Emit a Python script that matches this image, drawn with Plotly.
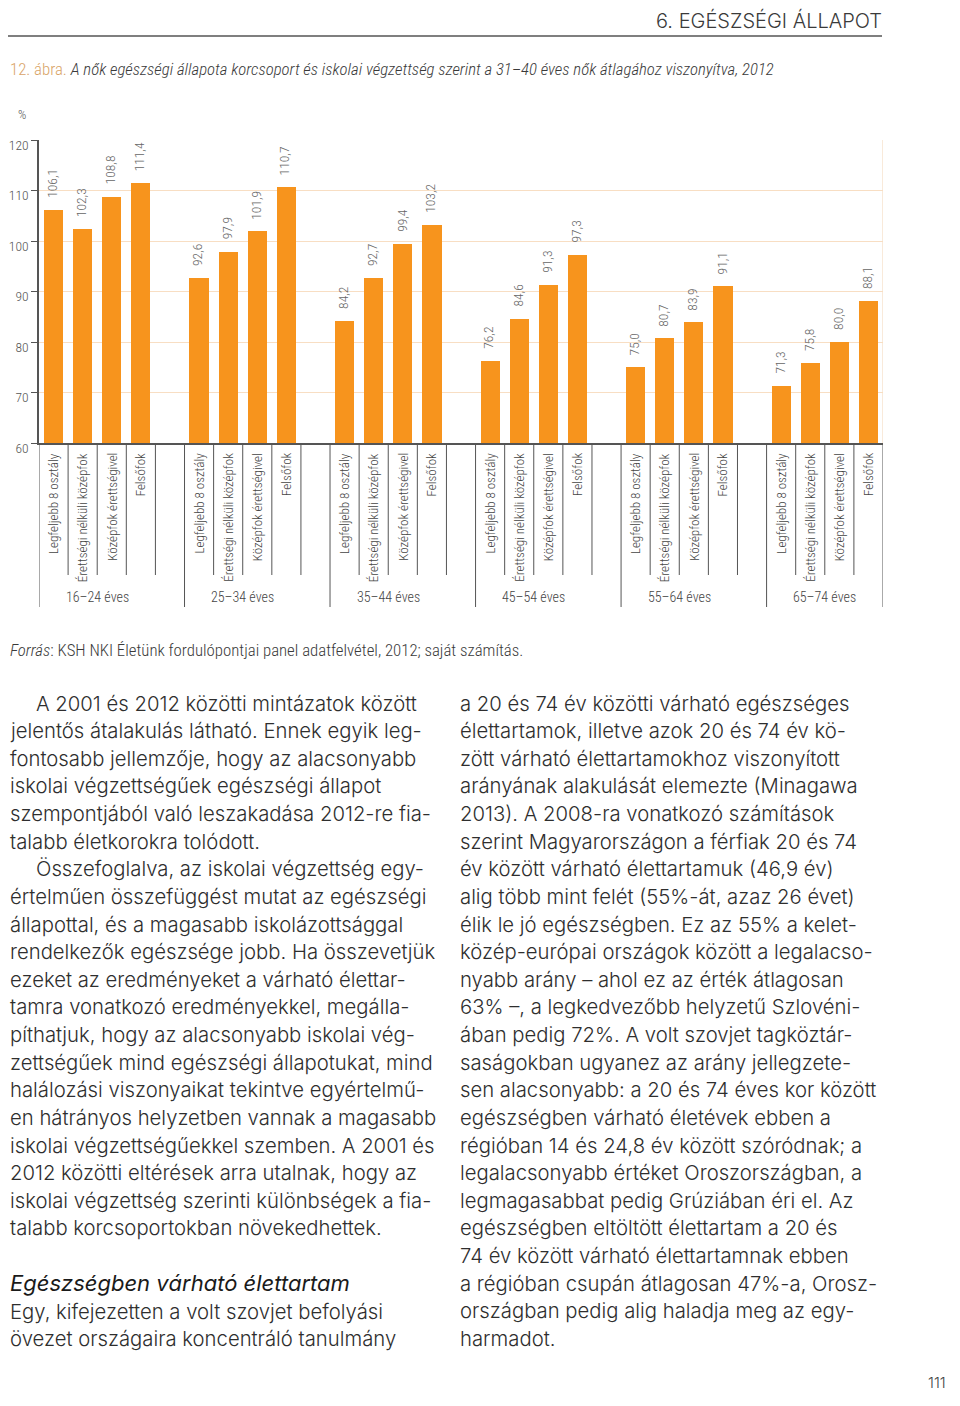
import plotly.graph_objects as go

# ---------------- data ----------------
groups = ["16–24 éves", "25–34 éves", "35–44 éves", "45–54 éves", "55–64 éves", "65–74 éves"]
levels = ["Legfeljebb 8 osztály", "Érettségi nélküli középfok", "Középfok érettségivel", "Felsőfok"]
v_legfeljebb8 = [106.1, 92.6, 84.2, 76.2, 75.0, 71.3]
v_erettsegi_nelkul = [102.3, 97.9, 92.7, 84.6, 80.7, 75.8]
v_erettsegivel = [108.8, 101.9, 99.4, 91.3, 83.9, 80.0]
v_felsofok = [111.4, 110.7, 103.2, 97.3, 91.1, 88.1]
series = [v_legfeljebb8, v_erettsegi_nelkul, v_erettsegivel, v_felsofok]
y_ticks = [60, 70, 80, 90, 100, 110, 120]

title_num = "12. ábra."
title_text = "A nők egészségi állapota korcsoport és iskolai végzettség szerint a 31–40 éves nők átlagához viszonyítva, 2012"
header_text = "6. EGÉSZSÉGI ÁLLAPOT"
source_label = "Forrás"
source_text = ": KSH NKI Életünk fordulópontjai panel adatfelvétel, 2012; saját számítás."
page_no = "111"

left_col = [
    "A 2001 és 2012 közötti mintázatok között",
    "jelentős átalakulás látható. Ennek egyik leg-",
    "fontosabb jellemzője, hogy az alacsonyabb",
    "iskolai végzettségűek egészségi állapot",
    "szempontjából való leszakadása 2012-re fia-",
    "talabb életkorokra tolódott.",
    "Összefoglalva, az iskolai végzettség egy-",
    "értelműen összefüggést mutat az egészségi",
    "állapottal, és a magasabb iskolázottsággal",
    "rendelkezők egészsége jobb. Ha összevetjük",
    "ezeket az eredményeket a várható élettar-",
    "tamra vonatkozó eredményekkel, megálla-",
    "píthatjuk, hogy az alacsonyabb iskolai vég-",
    "zettségűek mind egészségi állapotukat, mind",
    "halálozási viszonyaikat tekintve egyértelmű-",
    "en hátrányos helyzetben vannak a magasabb",
    "iskolai végzettségűekkel szemben. A 2001 és",
    "2012 közötti eltérések arra utalnak, hogy az",
    "iskolai végzettség szerinti különbségek a fia-",
    "talabb korcsoportokban növekedhettek.",
]
left_indent = [0, 6]
subheading = "Egészségben várható élettartam"
left_after = [
    "Egy, kifejezetten a volt szovjet befolyási",
    "övezet országaira koncentráló tanulmány",
]
right_col = [
    "a 20 és 74 év közötti várható egészséges",
    "élettartamok, illetve azok 20 és 74 év kö-",
    "zött várható élettartamokhoz viszonyított",
    "arányának alakulását elemezte (Minagawa",
    "2013). A 2008-ra vonatkozó számítások",
    "szerint Magyarországon a férfiak 20 és 74",
    "év között várható élettartamuk (46,9 év)",
    "alig több mint felét (55%-át, azaz 26 évet)",
    "élik le jó egészségben. Ez az 55% a kelet-",
    "közép-európai országok között a legalacso-",
    "nyabb arány – ahol ez az érték átlagosan",
    "63% –, a legkedvezőbb helyzetű Szlovéni-",
    "ában pedig 72%. A volt szovjet tagköztár-",
    "saságokban ugyanez az arány jellegzete-",
    "sen alacsonyabb: a 20 és 74 éves kor között",
    "egészségben várható életévek ebben a",
    "régióban 14 és 24,8 év között szóródnak; a",
    "legalacsonyabb értéket Oroszországban, a",
    "legmagasabbat pedig Grúziában éri el. Az",
    "egészségben eltöltött élettartam a 20 és",
    "74 év között várható élettartamnak ebben",
    "a régióban csupán átlagosan 47%-a, Orosz-",
    "országban pedig alig haladja meg az egy-",
    "harmadot.",
]

# ---------------- layout constants ----------------
PAGE_MARGIN = 8          # default <body> margin of the written html page
W, H = 960 - PAGE_MARGIN, 1406 - 2 * PAGE_MARGIN - 4
PL, PR, PT, PB = 39, 883, 140, 443  # plot area in page px
SLOT = 5  # slots per group (4 bars + gap)

COND = "Roboto Condensed, Liberation Sans Narrow, DejaVu Sans Condensed, Roboto, sans-serif"
BODY = "Inter, Lato, Open Sans, sans-serif"
GRAY = "#555555"
ORANGE = "#F7941D"


def px(x):
    return (x - PAGE_MARGIN) / W


def py(y):
    return 1 - (y - PAGE_MARGIN) / H


fig = go.Figure()

for i, (lvl, vals) in enumerate(zip(levels, series)):
    xs = [SLOT * g + i + 0.5 for g in range(len(groups))]
    fig.add_trace(go.Bar(
        x=xs, y=vals, name=lvl, width=0.66, marker=dict(color=ORANGE, line=dict(width=0)),
        showlegend=False, hoverinfo="skip",
    ))

annotations = []
shapes = []

for i, vals in enumerate(series):
    for g, v in enumerate(vals):
        annotations.append(dict(
            x=SLOT * g + i + 0.45, y=v, xref="x", yref="y",
            text=f"{v:.1f}".replace(".", ","), showarrow=False, textangle=-90,
            xanchor="center", yanchor="bottom", yshift=10,
            font=dict(family=COND, size=13.5, color="#666666", weight=300),
        ))

n_groups = len(groups)
x_end = SLOT * n_groups - 1

for g in range(n_groups):
    for i, lvl in enumerate(levels):
        annotations.append(dict(
            x=SLOT * g + i + 0.5, y=py(451), xref="x", yref="paper",
            text=lvl, showarrow=False, textangle=-90,
            xanchor="center", yanchor="top",
            font=dict(family=COND, size=13, color="#444444", weight=300),
        ))
    shapes.append(dict(type="line", xref="x", yref="paper", x0=SLOT * g, x1=SLOT * g,
                       y0=py(PB), y1=py(607), line=dict(color=GRAY, width=1)))
    for k in range(1, SLOT):
        xk = SLOT * g + k
        if xk >= x_end:
            break
        shapes.append(dict(type="line", xref="x", yref="paper", x0=xk, x1=xk,
                           y0=py(PB), y1=py(575), line=dict(color=GRAY, width=1)))
    gx = (SLOT * g + x_end) / 2 if g == n_groups - 1 else SLOT * g + 2
    annotations.append(dict(
        x=gx, y=py(597), xref="x", yref="paper",
        text=groups[g], showarrow=False, xanchor="center", yanchor="middle",
        font=dict(family=COND, size=14, color="#444444", weight=300),
    ))
shapes.append(dict(type="line", xref="x", yref="paper", x0=x_end, x1=x_end,
                   y0=py(PB), y1=py(607), line=dict(color=GRAY, width=1)))
shapes.append(dict(type="line", xref="x", yref="y", x0=x_end, x1=x_end,
                   y0=y_ticks[0], y1=y_ticks[-1], line=dict(color="#F6DDC2", width=1.2), layer="below"))

# header (anchored to top edge of figure)
annotations.append(dict(x=px(884), y=1, xref="paper", yref="paper", text=header_text,
                        showarrow=False, xanchor="right", yanchor="top", yshift=2,
                        font=dict(family=BODY, size=20, color="#3a3a3a", weight=300)))
shapes.append(dict(type="line", xref="paper", yref="paper", x0=px(8), x1=px(882),
                   y0=py(36), y1=py(36), line=dict(color="#555555", width=1.5)))

annotations.append(dict(x=px(8), y=py(69), xref="paper", yref="paper",
                        text=f"<span style='color:#D9A468'>{title_num}</span> <i>{title_text}</i>",
                        showarrow=False, xanchor="left", yanchor="middle",
                        font=dict(family=COND, size=16.8, color="#3a3a3a", weight=300)))
annotations.append(dict(x=px(22), y=py(114), xref="paper", yref="paper", text="%",
                        showarrow=False, xanchor="center", yanchor="middle",
                        font=dict(family=COND, size=13, color="#555555", weight=300)))
annotations.append(dict(x=px(8), y=py(650), xref="paper", yref="paper",
                        text=f"<i>{source_label}</i>{source_text}",
                        showarrow=False, xanchor="left", yanchor="middle",
                        font=dict(family=COND, size=16.8, color="#3a3a3a", weight=300)))

LH = 27.63
BFONT = dict(family=BODY, size=20.3, color="#2e2e2e", weight=300)
for n, line in enumerate(left_col):
    x0 = 34 if n in left_indent else 8
    annotations.append(dict(x=px(x0), y=py(703 + n * LH), xref="paper", yref="paper", text=line,
                            showarrow=False, xanchor="left", yanchor="middle", font=BFONT))
annotations.append(dict(x=px(8), y=py(1283), xref="paper", yref="paper", text=f"<i>{subheading}</i>",
                        showarrow=False, xanchor="left", yanchor="middle",
                        font=dict(family=BODY, size=22, color="#1a1a1a", weight=400)))
for n, line in enumerate(left_after):
    annotations.append(dict(x=px(8), y=py(1311 + n * LH), xref="paper", yref="paper", text=line,
                            showarrow=False, xanchor="left", yanchor="middle", font=BFONT))
for n, line in enumerate(right_col):
    annotations.append(dict(x=px(458), y=py(703 + n * LH), xref="paper", yref="paper", text=line,
                            showarrow=False, xanchor="left", yanchor="middle", font=BFONT))

# page number (anchored to bottom edge of figure, kept inside visible area)
annotations.append(dict(x=px(948), y=0, xref="paper", yref="paper", text=page_no,
                        showarrow=False, xanchor="right", yanchor="bottom",
                        font=dict(family=BODY, size=15, color="#444444", weight=300)))

fig.update_layout(
    width=W, height=H, margin=dict(l=0, r=0, t=0, b=0),
    paper_bgcolor="white", plot_bgcolor="white",
    bargap=0, barmode="overlay",
    xaxis=dict(domain=[px(PL), px(PR)], range=[0, x_end], showgrid=False, zeroline=False,
               showticklabels=False, ticks="", showline=True, linecolor=GRAY, linewidth=1.5,
               fixedrange=True, automargin=False),
    yaxis=dict(domain=[py(PB), py(PT)], range=[y_ticks[0], y_ticks[-1]], tickvals=y_ticks,
               ticks="outside", ticklen=6, tickcolor=GRAY, tickwidth=1,
               showgrid=True, gridcolor="#F8DEC3", gridwidth=1.2, zeroline=False,
               showline=True, linecolor=GRAY, linewidth=1.5, ticklabelshift=5,
               tickfont=dict(family=COND, size=13.5, color="#555555", weight=300),
               fixedrange=True, automargin=False),
    annotations=annotations, shapes=shapes,
)

fig.write_html("out.html")
